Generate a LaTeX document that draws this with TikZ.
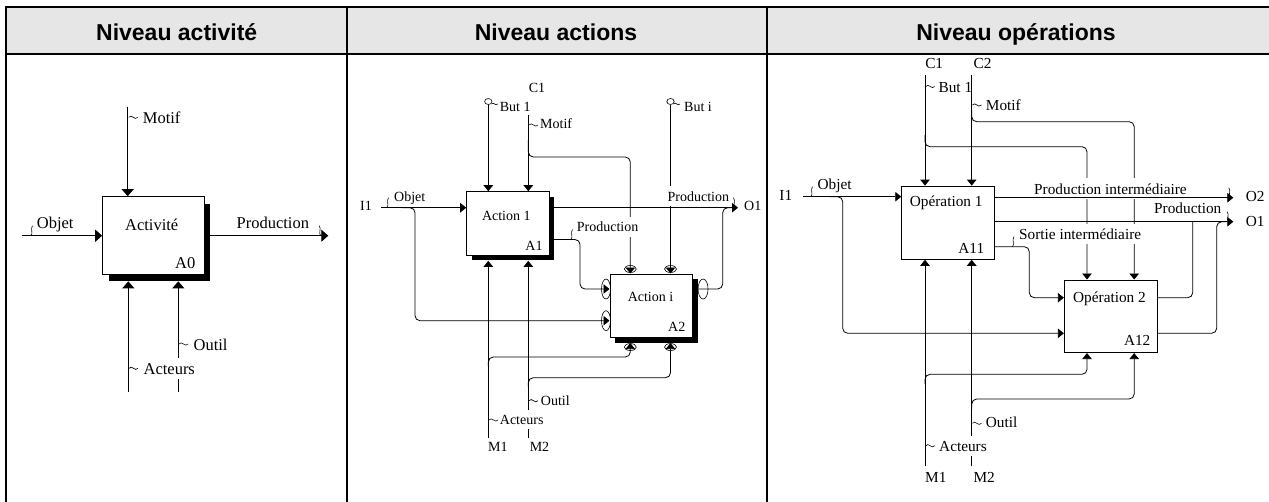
\documentclass[tikz,border=0pt]{standalone}
\usepackage{fontspec}
\setmainfont{Liberation Serif}
\newfontfamily\headfont{Liberation Sans}
\usepackage{tikz}
\usetikzlibrary{calc}
\usetikzlibrary{arrows.meta}
\definecolor{headgray}{RGB}{230,230,230}
\tikzset{
    fleche/.style={-{Triangle[length=6pt,width=9.5pt]}},
    grosfleche/.style={-{Triangle[length=7pt,width=12pt]}},
    boite/.style={draw, fill=white, inner sep=0pt, line width=0.9pt},
    ombre/.style={fill=black, inner sep=0pt},
    etiq/.style={inner xsep=0.5pt, inner ysep=5pt, fill=white},
    titre/.style={inner sep=0.5pt},
    sqh/.pic={\draw[line width=0.6pt] (0,0) .. controls (3,-4) and (6,4) .. (9,0);},
    sqv/.pic={\draw[line width=0.6pt] (0,0) .. controls (2.5,-3) and (-1,-6.5) .. (1.5,-10);}
}

\begin{document}
\begin{tikzpicture}[x=1pt,y=-1pt,line width=0.8pt]
\useasboundingbox (0,0) rectangle (1269,501);
% tableau
\fill[headgray] (5.7,7.3) rectangle (1275,54.3);
\draw[line width=2pt] (5.7,505) -- (5.7,7.3) -- (1275,7.3);
\draw[line width=2pt] (5.7,54.3) -- (1275,54.3);
\draw[line width=2pt] (346.7,7.3) -- (346.7,505);
\draw[line width=2pt] (766.7,7.3) -- (766.7,505);
\foreach \x/\p/\txt in {176.7/h1/{Niveau activité}, 556/h2/{Niveau actions}, 1016/h3/{Niveau opérations}}{
    \node[anchor=base, font=\headfont\bfseries\fontsize{23}{28}\selectfont] (\p) at (\x,40) {\txt};
}

% niveau activite
\begin{scope}[font=\fontsize{16.5}{19}\selectfont]
\node[ombre, minimum width=101.3pt, minimum height=77.3pt] (a0o) at (159.8,242.3) {};
\node[boite, minimum width=101.3pt, minimum height=77.3pt] (a0) at (153.3,235.3) {};
\coordinate (p1mot) at (127.7,106.7);
\coordinate (p1obj) at (21.7,235.7);
\coordinate (p1prod) at (328.3,235.7);
\coordinate (p1act) at (128.3,391.7);
\coordinate (p1out) at (178.3,391.7);
\draw[grosfleche] (p1mot) -- (p1mot |- a0.north);
\draw[grosfleche] (p1act) -- (p1act |- a0o.south);
\draw[grosfleche] (p1out) -- (p1out |- a0o.south);
\foreach \x/\y/\p/\pos/\st/\txt in {142/123.3/l1mot/base west/etiq/Motif, 36/228.3/l1obj/base west/etiq/Objet, 235.7/228.3/l1prod/base west/etiq/Production, 151.7/230/l1act/base/titre/Activité, 185.3/268.3/l1num/base/titre/A0, 192.7/350/l1out/base west/etiq/Outil, 142.7/374/l1acr/base west/etiq/Acteurs}{
    \node[\st, anchor=\pos] (\p) at (\x,\y) {\txt};
}
\draw[grosfleche] (p1obj) -- (p1obj -| a0.west);
\draw[grosfleche] (p1prod -| a0.east) -- (p1prod);
\pic at (128.7,117.3) {sqh};
\pic at (31,235.7) {sqv};
\pic[xscale=-1] at (320.7,235.7) {sqv};
\pic at (179,344) {sqh};
\pic at (129,368.3) {sqh};
\end{scope}

% niveau actions
\begin{scope}[font=\fontsize{14}{17}\selectfont]
\node[ombre, minimum width=82.3pt, minimum height=63.3pt] (a1o) at (513.3,228.8) {};
\node[boite, minimum width=82.3pt, minimum height=63.3pt] (a1) at (507.8,223.3) {};
\node[ombre, minimum width=82.7pt, minimum height=63.7pt] (a2o) at (656.3,310.8) {};
\node[boite, minimum width=82.7pt, minimum height=63.7pt] (a2) at (651.3,305.8) {};
\coordinate (p2b1) at (488.3,105);
\coordinate (p2mot) at (528.3,115);
\coordinate (p2motb) at (528.3,140);
\coordinate (p2motx) at (630.3,157);
\coordinate (p2bi) at (670.5,105);
\coordinate (p2i1) at (381,207.7);
\coordinate (p2objb) at (402,207.7);
\coordinate (p2objx) at (415,320.7);
\coordinate (p2o1) at (738,207.7);
\coordinate (p2ret) at (722.7,289);
\coordinate (p2pr) at (580,239.5);
\coordinate (p2m1) at (488.3,438);
\coordinate (p2m2) at (528.3,438);
\coordinate (p2m1b) at (488.3,366);
\coordinate (p2m1x) at (630.3,357);
\coordinate (p2m2b) at (528.3,387);
\coordinate (p2m2x) at (670.5,377.7);
\draw[fleche] (p2b1) -- (p2b1 |- a1.north);
\draw[fleche] (p2mot) -- (p2mot |- a1.north);
\draw[fleche, rounded corners=5pt] (p2motb) -- (p2motb |- p2motx) -- (p2motx) -- (p2motx |- a2.north);
\draw[fleche] (p2bi) -- (p2bi |- a2.north);
\draw[fleche] (p2m1) -- (p2m1 |- a1o.south);
\draw[fleche] (p2m2) -- (p2m2 |- a1o.south);
\draw[fleche, rounded corners=5pt] (p2m1b) -- (p2m1b |- p2m1x) -- (p2m1x) -- (p2m1x |- a2o.south);
\draw[fleche, rounded corners=5pt] (p2m2b) -- (p2m2b |- p2m2x) -- (p2m2x) -- (p2m2x |- a2o.south);
\foreach \x/\y/\p/\pos/\st/\txt in {537/92.7/l2c1/base/titre/C1, 499/111.7/l2but/base west/titre/But 1, 539.3/128.3/l2mot/base west/etiq/Motif, 683.3/111.7/l2bi/base west/etiq/But i, 366/210.7/l2i1/base/titre/I1, 393.3/201/l2obj/base west/etiq/Objet, 506.3/220/l2a1/base/titre/Action 1, 534/250.7/l2n1/base/titre/A1, 666.7/201/l2prod/base west/etiq/Production, 743.3/210.7/l2o1/base west/titre/O1, 576/231.7/l2pr/base west/etiq/Production, 650.5/301.7/l2a2/base/titre/Action i, 676.7/331.7/l2n2/base/titre/A2, 540/405/l2out/base west/etiq/Outil, 499/424/l2acr/base west/etiq/Acteurs, 497.8/451.7/l2m1/base/titre/M1, 539.5/451.7/l2m2/base/titre/M2}{
    \node[\st, anchor=\pos] (\p) at (\x,\y) {\txt};
}
\draw[fleche] (p2i1) -- (p2i1 -| a1.west);
\draw[fleche, rounded corners=5pt] (p2objb) -- (p2objb -| p2objx) -- (p2objx) -- (p2objx -| a2.west);
\draw[fleche] (p2o1 -| a1.east) -- (p2o1);
\draw[rounded corners=5pt] (p2ret -| a2.east) -- (p2ret) -- (p2ret |- p2o1) -- ($(p2ret |- p2o1)+(10,0)$);
\draw[fleche, rounded corners=5pt] (p2pr -| a1.east) -- (p2pr) -- (p2pr |- p2ret) -- (p2ret -| a2.west);
% tunnels
\foreach \p in {p2b1, p2bi}{
    \draw[line width=0.6pt] ($(\p)+(0,-3.5)$) ellipse [x radius=3.7, y radius=3];
}
\foreach \p in {p2motx, p2bi}{
    \draw[line width=0.6pt] ($(\p |- a2.north)+(0,-4.5)$) ellipse [x radius=6, y radius=3.5];
}
\foreach \p in {p2m1x, p2m2x}{
    \draw[line width=0.6pt] ($(\p |- a2o.south)+(0,4)$) ellipse [x radius=6, y radius=3.5];
}
\foreach \p in {p2ret, p2objx}{
    \draw[line width=0.6pt] ($(\p -| a2.west)+(-3.5,0)$) ellipse [x radius=4.5, y radius=10];
}
\draw[line width=0.6pt] ($(p2ret -| a2o.east)+(5,0)$) ellipse [x radius=5, y radius=10];
\pic[scale=0.7] at (491.5,104) {sqh};
\pic[scale=0.7] at (673.7,104) {sqh};
\pic at (529,125) {sqh};
\pic at (387,207.7) {sqv};
\pic[xscale=-1] at (735,207.7) {sqv};
\pic at (571,239.5) {sqv};
\pic at (529,400.7) {sqh};
\pic at (489,420) {sqh};
\end{scope}

% niveau operations
\begin{scope}[font=\fontsize{15.3}{18}\selectfont]
\node[boite, minimum width=92.6pt, minimum height=73.3pt] (o1) at (948,222.7) {};
\node[boite, minimum width=93.4pt, minimum height=72.7pt] (o2) at (1111,316.3) {};
\coordinate (p3c1) at (925,75);
\coordinate (p3c2) at (971.7,75);
\coordinate (p3c1b) at (925,135);
\coordinate (p3c1x) at (1087,146.7);
\coordinate (p3c2b) at (971.7,110);
\coordinate (p3c2x) at (1134.2,121.7);
\coordinate (p3i1) at (803.3,196.7);
\coordinate (p3objb) at (830,196.7);
\coordinate (p3objx) at (842.7,333.3);
\coordinate (p3o2) at (1233.3,197.7);
\coordinate (p3o1) at (1233.3,221.7);
\coordinate (p3so) at (1029.3,246.7);
\coordinate (p3e1) at (1192.7,297.7);
\coordinate (p3e2) at (1216.7,333.3);
\coordinate (p3m1) at (925,466);
\coordinate (p3m2) at (971.7,466);
\coordinate (p3m1b) at (925,384);
\coordinate (p3m1x) at (1087,374.3);
\coordinate (p3m2b) at (971.7,409);
\coordinate (p3m2x) at (1134.2,399);
\draw[fleche] (p3c1) -- (p3c1 |- o1.north);
\draw[fleche] (p3c2) -- (p3c2 |- o1.north);
\draw[fleche, rounded corners=5pt] (p3c1b) -- (p3c1b |- p3c1x) -- (p3c1x) -- (p3c1x |- o2.north);
\draw[fleche, rounded corners=5pt] (p3c2b) -- (p3c2b |- p3c2x) -- (p3c2x) -- (p3c2x |- o2.north);
\draw[fleche] (p3m1) -- (p3m1 |- o1.south);
\draw[fleche] (p3m2) -- (p3m2 |- o1.south);
\draw[fleche, rounded corners=5pt] (p3m1b) -- (p3m1b |- p3m1x) -- (p3m1x) -- (p3m1x |- o2.south);
\draw[fleche, rounded corners=5pt] (p3m2b) -- (p3m2b |- p3m2x) -- (p3m2x) -- (p3m2x |- o2.south);
\foreach \x/\y/\p/\pos/\st/\txt in {934.2/68.3/l3c1/base/titre/C1, 982.5/68.3/l3c2/base/titre/C2, 937.7/92.3/l3but/base west/titre/But 1, 985/110.7/l3mot/base west/etiq/Motif, 785.8/200.7/l3i1/base/titre/I1, 816.7/189.3/l3obj/base west/etiq/Objet, 946.2/206.7/l3o1/base/titre/Opération 1, 971.3/253.3/l3n1/base/titre/A11, 1033.3/194/l3pi/base west/etiq/Production intermédiaire, 1245/201.7/l3out2/base west/titre/O2, 1153.3/213.3/l3prod/base west/etiq/Production, 1245/226/l3out1/base west/titre/O1, 1018.3/239.3/l3si/base west/etiq/Sortie intermédiaire, 1109.5/302.3/l3o2/base/titre/Opération 2, 1137.2/345.7/l3n2/base/titre/A12, 985/427.7/l3out/base west/etiq/Outil, 938.3/451/l3acr/base west/etiq/Acteurs, 935.8/482.7/l3m1/base/titre/M1, 984.2/482.7/l3m2/base/titre/M2}{
    \node[\st, anchor=\pos] (\p) at (\x,\y) {\txt};
}
\draw[fleche] (p3i1) -- (p3i1 -| o1.west);
\draw[fleche, rounded corners=5pt] (p3objb) -- (p3objb -| p3objx) -- (p3objx) -- (p3objx -| o2.west);
\draw[fleche] (p3o2 -| o1.east) -- (p3o2);
\draw[fleche] (p3o1 -| o1.east) -- (p3o1);
\draw[fleche, rounded corners=5pt] (p3so -| o1.east) -- (p3so) -- (p3so |- p3e1) -- (p3e1 -| o2.west);
\draw[rounded corners=5pt] (p3e1 -| o2.east) -- (p3e1) -- (p3e1 |- p3o1);
\draw[rounded corners=5pt] (p3e2 -| o2.east) -- (p3e2) -- (p3e2 |- p3o1) -- ($(p3e2 |- p3o1)+(10,0)$);
\pic at (925.7,86.5) {sqh};
\pic at (972.4,105) {sqh};
\pic at (811,196.7) {sqv};
\pic[xscale=-1] at (1230.3,197.7) {sqv};
\pic[xscale=-1] at (1228.7,221.7) {sqv};
\pic at (1012.5,246.7) {sqv};
\pic at (972.4,423.3) {sqh};
\pic at (925.7,445.7) {sqh};
\end{scope}
\end{tikzpicture}
\end{document}
